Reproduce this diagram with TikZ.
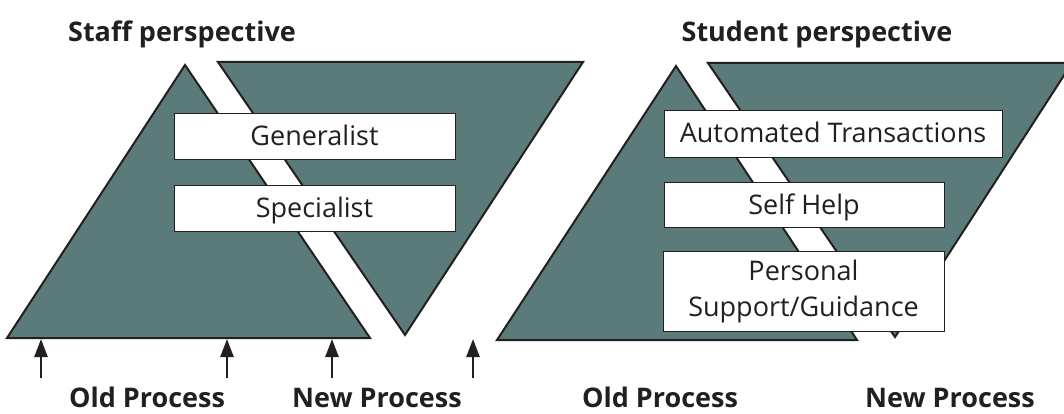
\documentclass[tikz,border=0pt]{standalone}
\usepackage{fontspec}
\setmainfont{Open Sans}
\usetikzlibrary{arrows.meta}
\definecolor{teal1}{RGB}{90,123,122}
\definecolor{ink}{RGB}{35,31,32}
\begin{document}
\begin{tikzpicture}[x=1pt,y=-1pt,
  tri/.style={fill=teal1,draw=ink,line width=2pt},
  boxbase/.style={draw=ink,fill=white,line width=0.9pt,inner sep=0pt,font=\fontsize{27}{36}\selectfont,text=ink,align=center},
  onel/.style={text height=25pt,text depth=6pt},
  up/.style={draw=ink,line width=2.5pt,arrows={-Triangle[length=18pt,width=13pt]}},
  lab/.style={font=\bfseries\fontsize{27}{32}\selectfont,text=ink,anchor=base}]
\clip (0,0) rectangle (1064,414);
% staff perspective shapes
\draw[tri] (7,338) -- (185,65) -- (370,338) -- cycle;
\draw[tri] (218,62) -- (583,62) -- (405,335) -- cycle;
% student perspective shapes
\draw[tri] (497,340) -- (676,66) -- (857,340) -- cycle;
\draw[tri] (708,63) -- (1072,63) -- (895,337) -- cycle;
% boxes
\node[boxbase,onel,minimum width=281pt,minimum height=46pt] (gen) at (314.5,136) {Generalist};
\node[boxbase,onel,minimum width=281pt,minimum height=46pt] (spec) at (314.5,208) {Specialist};
\node[boxbase,onel,minimum width=338pt,minimum height=47pt] (auto) at (833,133.5) {Automated Transactions};
\node[boxbase,onel,minimum width=280pt,minimum height=45pt] (self) at (804,204.5) {Self Help};
\node[boxbase,minimum width=281pt,minimum height=80pt] (pers) at (803.5,291) {\raisebox{-2pt}{Personal}\\\raisebox{-2pt}{Support/Guidance}};
% arrows
\coordinate (a1s) at (41,378);  \coordinate (a1e) at (41,339);
\coordinate (a2s) at (227,378); \coordinate (a2e) at (227,339);
\coordinate (a3s) at (332,378); \coordinate (a3e) at (332,339);
\coordinate (a4s) at (473,378); \coordinate (a4e) at (473,339);
\draw[up] (a1s) -- (a1e);
\draw[up] (a2s) -- (a2e);
\draw[up] (a3s) -- (a3e);
\draw[up] (a4s) -- (a4e);
% labels
\node[lab] (staff) at (182,42) {Staff perspective};
\node[lab] (student) at (817,42) {Student perspective};
\node[lab] (old1) at (147,407) {Old Process};
\node[lab] (new1) at (377,407) {New Process};
\node[lab] (old2) at (660,407) {Old Process};
\node[lab] (new2) at (950,407) {New Process};
\end{tikzpicture}
\end{document}
